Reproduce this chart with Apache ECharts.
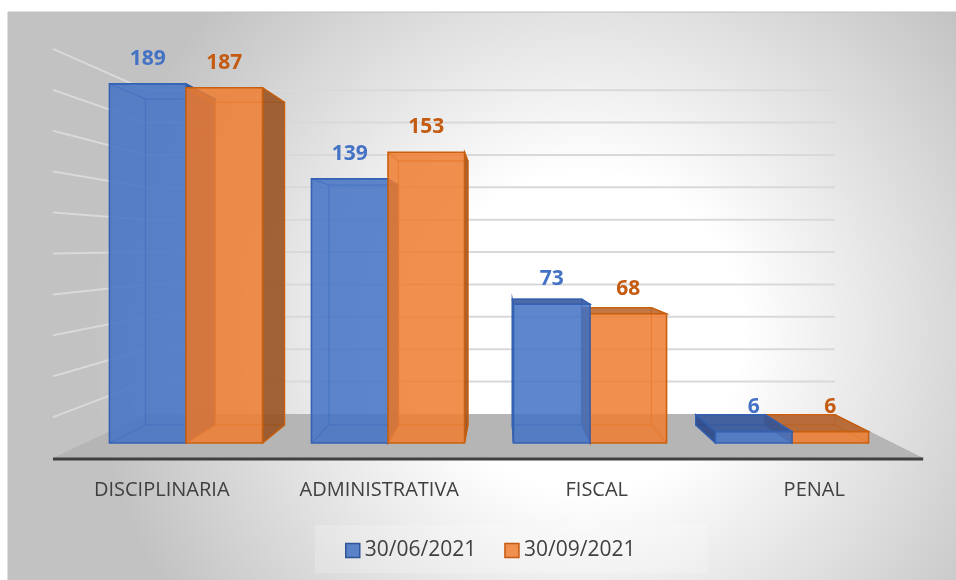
<!DOCTYPE html>
<html>
<head>
<meta charset="utf-8">
<script src="https://cdn.jsdelivr.net/npm/echarts@6/dist/echarts.min.js"></script>
<style>html,body{margin:0;padding:0;background:#fff;}#c{width:956px;height:580px;}</style>
</head>
<body>
<div id="c"></div>
<script>
const categories = ['DISCIPLINARIA', 'ADMINISTRATIVA', 'FISCAL', 'PENAL'];
const seriesNames = ['30/06/2021', '30/09/2021'];
const values0630 = [189, 139, 73, 6];
const values0930 = [187, 153, 68, 6];
const gridTicks = [20, 40, 60, 80, 100, 120, 140, 160, 180, 200];

const FONT = '"Open Sans", "Noto Sans", sans-serif';
const VP = [501, 247];
const S_BACK = 0.908, S_WALL = 0.852, S_FLOOR = 1.077;
function proj(p, s) { return [VP[0] + (p[0] - VP[0]) * s, VP[1] + (p[1] - VP[1]) * s]; }

const styles = [
  { front: 'rgba(68,114,196,0.86)', side: 'rgba(40,70,135,0.9)', top: 'rgba(50,85,155,0.88)', edge: '#3561B2', label: '#4472C4' },
  { front: 'rgba(237,125,49,0.86)', side: 'rgba(150,80,30,0.88)', top: 'rgba(185,95,35,0.85)', edge: '#C9600F', label: '#C55A11' }
];

function barRender(k) {
  return function (params, api) {
    const ci = api.value(0), v = api.value(1);
    const base = api.coord([ci, 0]);
    const tp = api.coord([ci, v]);
    const band = api.size([1, 0])[0];
    const bw = band * 0.379;
    const cx = base[0];
    const x0 = k === 0 ? cx - bw : cx;
    const x1 = x0 + bw;
    const yb = base[1], yt = tp[1];
    const A = [x0, yt], B = [x1, yt], C = [x1, yb], D = [x0, yb];
    const A2 = proj(A, S_BACK), B2 = proj(B, S_BACK), C2 = proj(C, S_BACK), D2 = proj(D, S_BACK);
    const st = styles[k];
    const leftSide = cx < VP[0];
    const order = leftSide ? k : 1 - k;
    const bz = order * 10;
    const children = [];
    const edgeStyle = { stroke: st.edge, lineWidth: 1.3, fill: null, opacity: 0.75 };
    children.push({ type: 'polyline', z2: bz, shape: { points: [A2, B2, C2, D2, A2] }, style: edgeStyle });
    [[A, A2], [B, B2], [C, C2], [D, D2]].forEach(function (pr) {
      children.push({ type: 'line', z2: bz, shape: { x1: pr[0][0], y1: pr[0][1], x2: pr[1][0], y2: pr[1][1] }, style: edgeStyle });
    });
    if (x1 < VP[0]) {
      children.push({ type: 'polygon', z2: bz + 1, shape: { points: [B, B2, C2, C] }, style: { fill: st.side, stroke: st.edge, lineWidth: 1.3 } });
    }
    if (x0 > VP[0]) {
      children.push({ type: 'polygon', z2: bz + 1, shape: { points: [A, A2, D2, D] }, style: { fill: st.side, stroke: st.edge, lineWidth: 1.3 } });
    }
    if (yt > VP[1]) {
      children.push({ type: 'polygon', z2: bz + 2, shape: { points: [A, B, B2, A2] }, style: { fill: st.top, stroke: st.edge, lineWidth: 1.3 } });
    }
    children.push({ type: 'polygon', z2: bz + 3, shape: { points: [A, B, C, D] }, style: { fill: st.front, stroke: st.edge, lineWidth: 1.6 } });
    children.push({ type: 'text', z2: 100, x: (x0 + x1) / 2, y: yt - 25,
      style: { text: String(v), fill: st.label, font: 'bold 21px ' + FONT, align: 'center', verticalAlign: 'middle' } });
    return { type: 'group', children: children };
  };
}

function floorRender(params, api) {
  const band = api.size([1, 0])[0];
  const first = api.coord([0, 0]);
  const last = api.coord([categories.length - 1, 0]);
  const xl = first[0] - band / 2, xr = last[0] + band / 2, yb = first[1];
  const fl = proj([xl, yb], S_FLOOR), fr = proj([xr, yb], S_FLOOR);
  const bl = proj([xl, yb], S_WALL), br = proj([xr, yb], S_WALL);
  return { type: 'group', children: [
    { type: 'polygon', shape: { points: [fl, fr, br, bl] }, style: { fill: '#B5B5B5' } },
    { type: 'line', shape: { x1: fl[0], y1: fl[1] + 1, x2: fr[0], y2: fr[1] + 1 }, style: { stroke: '#404040', lineWidth: 3 } }
  ] };
}

function gridRender(params, api) {
  const band = api.size([1, 0])[0];
  const v = api.value(0);
  const first = api.coord([0, v]);
  const last = api.coord([categories.length - 1, v]);
  const xl = first[0] - band / 2, xr = last[0] + band / 2, y = first[1];
  const bl = proj([xl, y], S_WALL), br = proj([xr, y], S_WALL), fl = proj([xl, y], S_FLOOR);
  const s = { stroke: '#D9D9D9', lineWidth: 2 };
  return { type: 'group', children: [
    { type: 'line', shape: { x1: bl[0], y1: bl[1], x2: br[0], y2: br[1] }, style: s },
    { type: 'line', shape: { x1: fl[0], y1: fl[1], x2: bl[0], y2: bl[1] }, style: { stroke: '#DEDEDE', lineWidth: 2, opacity: 0.8 } }
  ] };
}

const chart = echarts.init(document.getElementById('c'), null, { renderer: 'canvas' });
chart.setOption({
  animation: false,
  backgroundColor: '#ffffff',
  graphic: [{
    type: 'rect', z: -10, silent: true,
    shape: { x: 8, y: 12, width: 960, height: 580 },
    style: {
      fill: { type: 'radial', x: 0.6, y: 0.55, r: 0.85, colorStops: [
        { offset: 0, color: '#ffffff' }, { offset: 0.32, color: '#ffffff' }, { offset: 1, color: '#C2C2C2' }] },
      stroke: '#C0C0C0', lineWidth: 1
    }
  }],
  grid: [
    { left: 85, right: 63, top: 63, bottom: 137 },
    { left: 53, right: 33, top: 100, bottom: 122 }
  ],
  xAxis: [
    { type: 'category', gridIndex: 0, data: categories, show: false },
    { type: 'category', gridIndex: 1, data: categories,
      axisLine: { show: false }, axisTick: { show: false }, splitLine: { show: false },
      axisLabel: { margin: 22, fontSize: 20, color: '#404040', fontFamily: FONT } }
  ],
  yAxis: [
    { type: 'value', gridIndex: 0, min: 0, max: 200, interval: 20, show: false, splitLine: { show: false } },
    { type: 'value', gridIndex: 1, show: false, splitLine: { show: false } }
  ],
  legend: {
    left: 315, top: 525, padding: [15, 72, 12, 30], itemGap: 28, itemWidth: 14, itemHeight: 14,
    backgroundColor: 'rgba(255,255,255,0.2)',
    textStyle: { fontSize: 21, color: '#404040', fontFamily: FONT, lineHeight: 20 },
    data: [
      { name: seriesNames[0], icon: 'rect', itemStyle: { color: '#5A82C8', borderColor: '#2F5597', borderWidth: 1.5 } },
      { name: seriesNames[1], icon: 'rect', itemStyle: { color: '#F0904E', borderColor: '#C55A11', borderWidth: 1.5 } }
    ]
  },
  series: [
    { type: 'custom', name: 'floor', xAxisIndex: 0, yAxisIndex: 0, z: 1, silent: true, renderItem: floorRender, data: [[0]] },
    { type: 'custom', name: 'grid', xAxisIndex: 0, yAxisIndex: 0, z: 1, silent: true, renderItem: gridRender,
      data: gridTicks.map(function (t) { return [t]; }), encode: { y: 0 } },
    { type: 'custom', name: seriesNames[0], xAxisIndex: 0, yAxisIndex: 0, z: 2, renderItem: barRender(0),
      itemStyle: { color: '#4472C4' },
      data: values0630.map(function (v, i) { return [i, v]; }), encode: { x: 0, y: 1 } },
    { type: 'custom', name: seriesNames[1], xAxisIndex: 0, yAxisIndex: 0, z: 2, renderItem: barRender(1),
      itemStyle: { color: '#ED7D31' },
      data: values0930.map(function (v, i) { return [i, v]; }), encode: { x: 0, y: 1 } },
    { type: 'bar', xAxisIndex: 1, yAxisIndex: 1, data: [], silent: true }
  ]
});
</script>
</body>
</html>
